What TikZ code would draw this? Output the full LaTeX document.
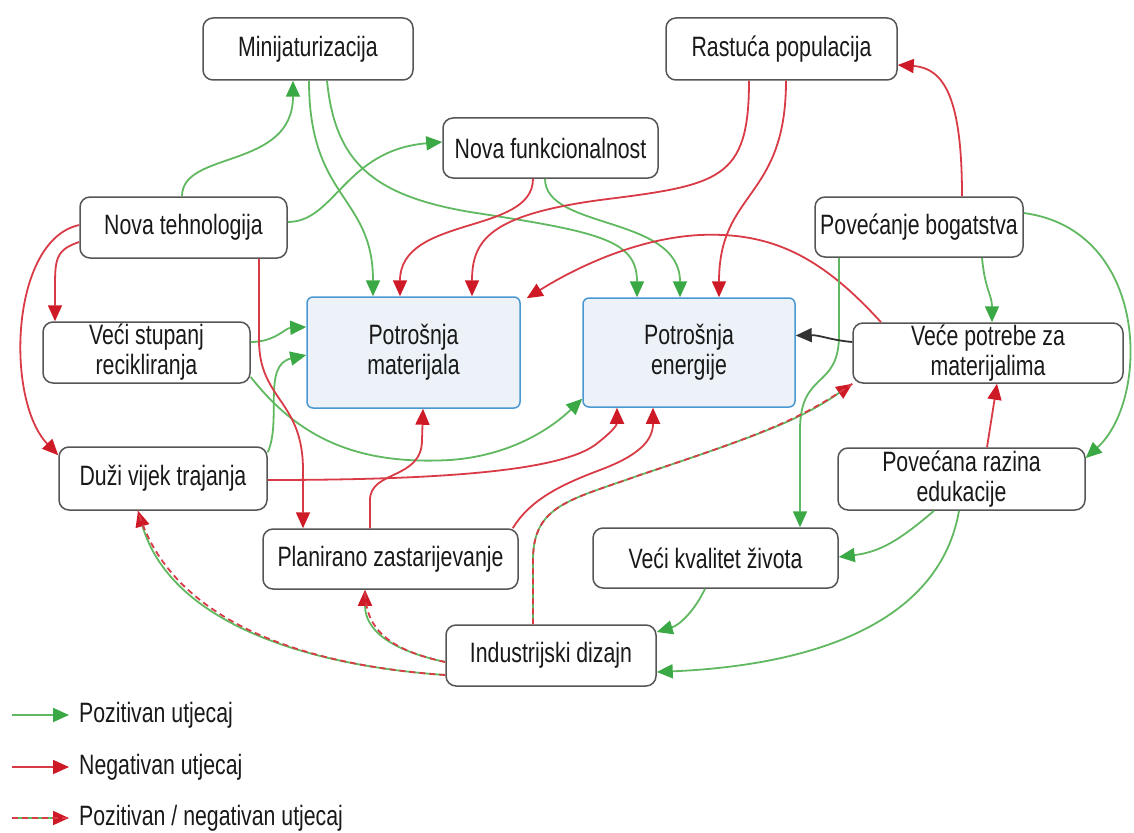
\documentclass[tikz,border=0pt]{standalone}
\usepackage{fontspec}
\setmainfont{Liberation Sans}[FakeStretch=0.76]
\usetikzlibrary{arrows.meta}
\definecolor{gline}{RGB}{96,184,96}
\definecolor{ghead}{RGB}{58,168,68}
\definecolor{rline}{RGB}{216,58,70}
\definecolor{rhead}{RGB}{206,26,38}
\definecolor{boxc}{RGB}{85,85,85}
\definecolor{bluec}{RGB}{74,152,210}
\definecolor{bluef}{RGB}{236,242,248}
\definecolor{txt}{RGB}{25,25,25}
\definecolor{blk}{RGB}{50,50,50}
\begin{document}
\begin{tikzpicture}[x=1pt,y=-1pt,
 box/.style={draw=boxc, line width=1.5pt, rounded corners=10pt, fill=white, align=center, inner sep=0pt, font=\fontsize{28}{30}\selectfont, text=txt},
 bbox/.style={box, draw=bluec, fill=bluef, rounded corners=6pt},
 posarr/.style={draw=gline, line width=1.8pt, -{Triangle[length=16pt,width=14pt,color=ghead]}},
 negarr/.style={draw=rline, line width=1.8pt, -{Triangle[length=16pt,width=14pt,color=rhead]}},
 mixarr/.style={draw=gline, line width=1.8pt, -{Triangle[length=16pt,width=14pt,color=rhead]}, postaction={draw=rline, dash pattern=on 6pt off 4pt, -}},
 blkarr/.style={draw=blk, line width=1.8pt, -{Triangle[length=16pt,width=14pt,color=blk]}},
 leg/.style={anchor=west, inner sep=0pt, font=\fontsize{28}{30}\selectfont, text=txt}
]
\useasboundingbox (0,0) rectangle (1134,832);

% nodes
\node[box, minimum width=210pt, minimum height=62pt] (mini) at (308,49) {Minijaturizacija};
\node[box, minimum width=231pt, minimum height=62pt] (rast) at (781.5,49) {Rastuća populacija};
\node[box, minimum width=215pt, minimum height=60pt] (nfun) at (550.5,148) {Nova funkcionalnost};
\node[box, minimum width=207pt, minimum height=61pt] (ntech) at (183.5,227.5) {Nova tehnologija};
\node[box, minimum width=208pt, minimum height=60pt] (pbog) at (919,227) {Povećanje bogatstva};
\node[box, minimum width=207pt, minimum height=61pt] (vstup) at (146.5,352.5) {Veći stupanj\\recikliranja};
\node[bbox, minimum width=213pt, minimum height=111pt] (pmat) at (413.5,352.5) {Potrošnja\\materijala};
\node[bbox, minimum width=212pt, minimum height=109pt] (pen) at (689,352.5) {Potrošnja\\energije};
\node[box, minimum width=270pt, minimum height=60pt] (vpot) at (988,353) {Veće potrebe za\\materijalima};
\node[box, minimum width=208pt, minimum height=63pt] (duzi) at (163,478.5) {Duži vijek trajanja};
\node[box, minimum width=247pt, minimum height=62pt] (prazina) at (961.5,479) {Povećana razina\\edukacije};
\node[box, minimum width=255pt, minimum height=60pt] (plan) at (390.5,559) {Planirano zastarijevanje};
\node[box, minimum width=245pt, minimum height=60pt] (vkval) at (715.5,558) {Veći kvalitet života};
\node[box, minimum width=210pt, minimum height=61pt] (indd) at (551,655.5) {Industrijski dizajn};

% connectors
\draw[posarr] ([xshift=-1.5pt]ntech.north) .. controls (182,150) and (293,170) .. ([xshift=-15pt]mini.south);
\draw[posarr] ([xshift=1pt]mini.south) .. controls (309,200) and (373,195) .. ([xshift=-40.5pt]pmat.north);
\draw[posarr] ([xshift=19pt]mini.south) .. controls (335,160) and (370,195) .. (470,212) .. controls (600,232) and (637,240) .. ([xshift=-52pt]pen.north);
\draw[posarr] ([yshift=5.5pt]ntech.east) .. controls (335,222) and (345,150) .. ([yshift=6pt]nfun.west);
\draw[negarr] ([xshift=-17.5pt]nfun.south) .. controls (533,235) and (400,215) .. ([xshift=-13.5pt]pmat.north);
\draw[posarr] ([xshift=-5.5pt]nfun.south) .. controls (545,230) and (680,215) .. ([xshift=-9pt]pen.north);
\draw[negarr] ([xshift=-32.5pt]rast.south) .. controls (749,180) and (720,185) .. (600,200) .. controls (490,215) and (472,240) .. ([xshift=58.5pt]pmat.north);
\draw[negarr] ([xshift=4.5pt]rast.south) .. controls (786,200) and (719,190) .. ([xshift=30pt]pen.north);
\draw[negarr] ([xshift=43pt]pbog.north) .. controls (962,100) and (945,68) .. ([yshift=-16pt]rast.east);
\draw[negarr] ([xshift=-107pt]vpot.north) .. controls (820,255) and (770,232) .. (700,235) .. controls (640,238) and (580,265) .. ([xshift=6pt,yshift=-2pt]pmat.north east);
\draw[posarr] ([xshift=63pt]pbog.south) .. controls (985,290) and (992,295) .. ([xshift=4pt]vpot.north);
\draw[posarr] ([xshift=-80pt]pbog.south) -- (839,335) .. controls (839,390) and (800,370) .. (800,430) -- ([xshift=84.5pt]vkval.north);
\draw[posarr] ([yshift=14pt]pbog.east) .. controls (1150,230) and (1150,400) .. ([yshift=21pt]prazina.east);
\draw[blkarr] ([yshift=11pt]vpot.west) .. controls (830,340) and (820,335) .. ([yshift=17pt]pen.east);
\draw[negarr] ([xshift=25.5pt]prazina.north) -- ([xshift=9pt]vpot.south);
\draw[posarr] ([xshift=-27.5pt]prazina.south) .. controls (900,540) and (880,552) .. ([yshift=1pt]vkval.east);
\draw[posarr] ([xshift=-2.5pt]prazina.south) .. controls (940,620) and (820,665) .. ([yshift=-16.5pt]indd.east);
\draw[posarr] ([xshift=-10.5pt]vkval.south) .. controls (695,610) and (680,625) .. ([yshift=23.5pt]indd.east);
\draw[mixarr] ([xshift=-18pt]indd.north) -- (533,560) .. controls (533,505) and (570,500) .. (640,475) .. controls (760,435) and (800,420) .. (vpot.south west);
\draw[mixarr] ([yshift=-6.5pt]indd.west) .. controls (390,650) and (365,630) .. ([xshift=-25.5pt]plan.south);
\draw[mixarr] ([yshift=-19.5pt]indd.west) .. controls (300,665) and (170,620) .. ([xshift=-25pt]duzi.south);
\draw[negarr] ([yshift=-1.5pt]duzi.east) .. controls (450,480) and (560,470) .. (595,445) .. controls (612,432) and (617,425) .. ([xshift=-72pt]pen.south);
\draw[posarr] ([yshift=-24.5pt]vstup.east) .. controls (300,440) and (360,465) .. (450,460) .. controls (520,455) and (560,420) .. ([yshift=9pt]pen.south west);
\draw[posarr] ([yshift=10.5pt]vstup.east) .. controls (275,342) and (285,328) .. ([yshift=25.5pt]pmat.west);
\draw[posarr] ([yshift=-6pt]duzi.north east) .. controls (282,420) and (262,365) .. ([yshift=-2.5pt]pmat.west);
\draw[negarr] ([xshift=75.5pt]ntech.south) -- (259,340) .. controls (259,400) and (303,400) .. (303,470) -- ([xshift=-87.5pt]plan.north);
\draw[negarr] ([yshift=2.5pt]ntech.west) .. controls (10,240) and (5,400) .. ([yshift=-9pt]duzi.north west);
\draw[negarr] ([yshift=-14.5pt]ntech.west) .. controls (55,250) and (55,260) .. (55,290) -- ([xshift=-91.5pt]vstup.north);
\draw[negarr] ([xshift=-20.5pt]plan.north) -- (370,500) .. controls (370,470) and (422,480) .. (422,440) -- ([xshift=9.5pt]pmat.south);
\draw[negarr] ([xshift=-6pt]plan.north east) .. controls (530,500) and (560,485) .. (600,470) .. controls (640,455) and (653,440) .. ([xshift=-36pt]pen.south);

% legend
\coordinate (l1a) at (12,715); \coordinate (l1b) at (69,715);
\coordinate (l2a) at (12,767); \coordinate (l2b) at (69,767);
\coordinate (l3a) at (12,818); \coordinate (l3b) at (69,818);
\node[leg] (l1t) at (79,715) {Pozitivan utjecaj};
\node[leg] (l2t) at (79,767) {Negativan utjecaj};
\node[leg] (l3t) at (79,818) {Pozitivan / negativan utjecaj};
\draw[posarr] (l1a) -- (l1b);
\draw[negarr] (l2a) -- (l2b);
\draw[mixarr] (l3a) -- (l3b);
\end{tikzpicture}
\end{document}
